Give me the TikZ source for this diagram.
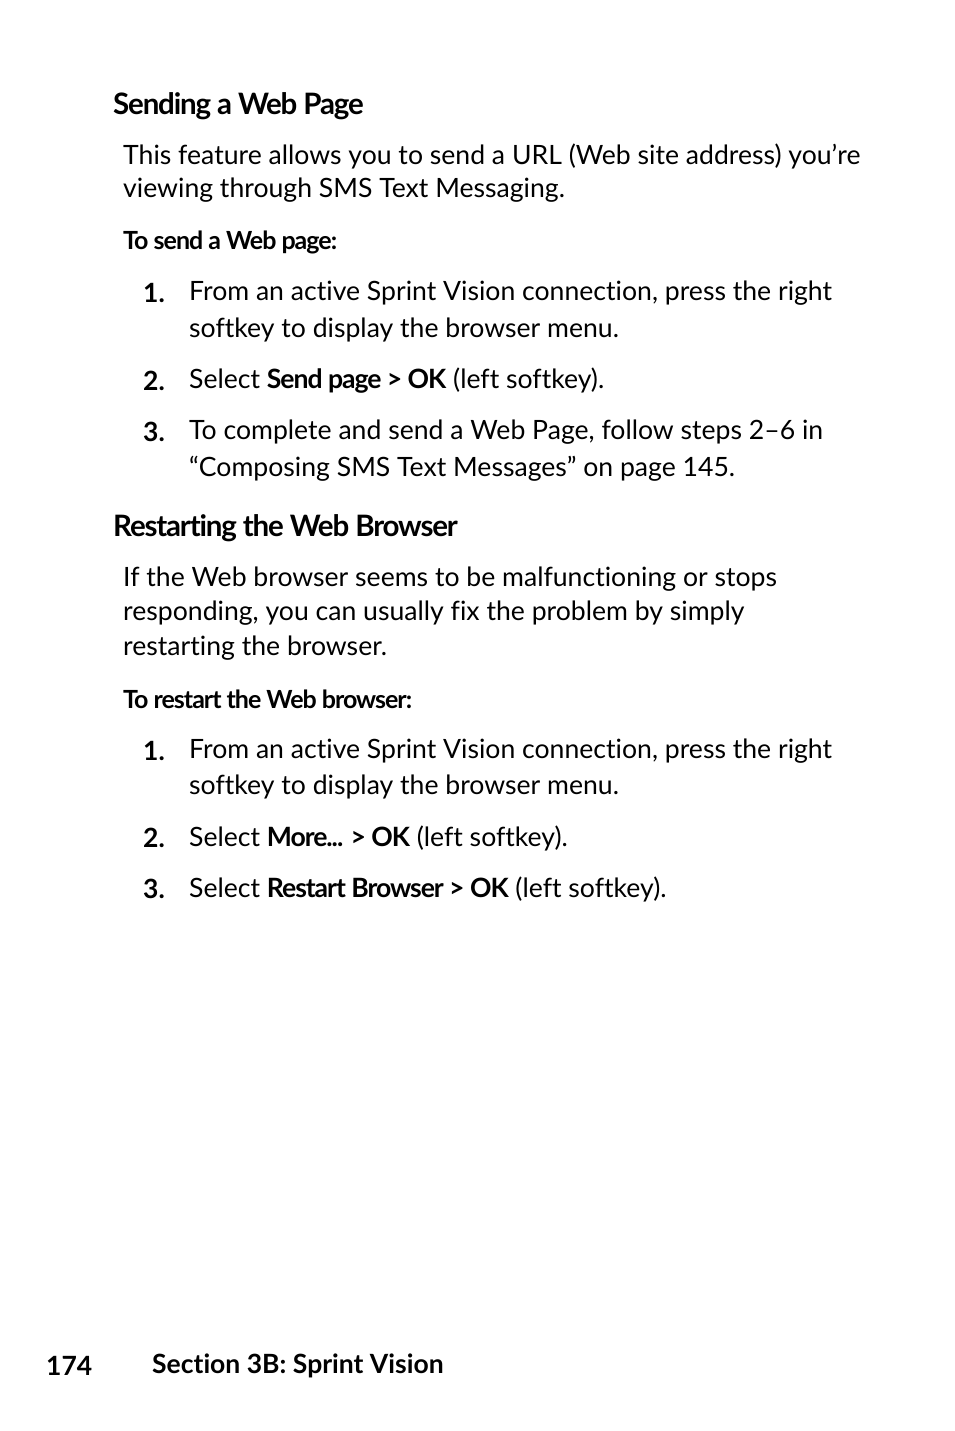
\documentclass[tikz,border=0pt]{standalone}
\usepackage{fontspec}
\setmainfont{Lato}[RawFeature=-liga;-dlig]
\begin{document}
\begin{tikzpicture}[x=1pt,y=-1pt,
  body/.style={anchor=west,inner sep=0pt,font=\fontsize{26.6}{30}\selectfont},
  head/.style={anchor=west,inner sep=0pt,font=\fontsize{29.5}{32}\selectfont\bfseries\addfontfeatures{LetterSpace=-4}},
  sub/.style={anchor=west,inner sep=0pt,font=\fontsize{25}{28}\selectfont\bfseries\addfontfeatures{LetterSpace=-4}},
  num/.style={anchor=west,inner sep=0pt,font=\fontsize{26.5}{30}\selectfont\bfseries}]
\useasboundingbox (0,0) rectangle (954,1431);
\node[head] (h1) at (113,106) {Sending a Web Page};
\node[body] (p1) at (123,156) {This feature allows you to send a URL (Web site address) you’re};
\node[body] (p2) at (123,190) {viewing through SMS Text Messaging.};
\node[sub] (s1) at (123,242) {To send a Web page:};
\node[num] (n1) at (143,293) {1.};
\node[body] (a1) at (189,293) {From an active Sprint Vision connection, press the right};
\node[body] (a2) at (189,330) {softkey to display the browser menu.};
\node[num] (n2) at (143,381) {2.};
\node[body] (b1) at (189,381) {Select {\bfseries\addfontfeatures{LetterSpace=-4}Send page > OK} (left softkey).};
\node[num] (n3) at (143,432) {3.};
\node[body] (c1) at (189,432) {To complete and send a Web Page, follow steps 2–6 in};
\node[body] (c2) at (189,469) {“Composing SMS Text Messages” on page 145.};
\node[head] (h2) at (113,528) {Restarting the Web Browser};
\node[body] (q1) at (123,579) {If the Web browser seems to be malfunctioning or stops};
\node[body] (q2) at (123,613) {responding, you can usually fix the problem by simply};
\node[body] (q3) at (123,648) {restarting the browser.};
\node[sub] (s2) at (123,699) {To restart the Web browser:};
\node[num] (m1) at (143,751) {1.};
\node[body] (d1) at (189,751) {From an active Sprint Vision connection, press the right};
\node[body] (d2) at (189,787) {softkey to display the browser menu.};
\node[num] (m2) at (143,838) {2.};
\node[body] (e1) at (189,838) {Select {\bfseries\addfontfeatures{LetterSpace=-4}More... > OK} (left softkey).};
\node[num] (m3) at (143,889) {3.};
\node[body] (f1) at (189,889) {Select {\bfseries\addfontfeatures{LetterSpace=-4}Restart Browser > OK} (left softkey).};
\node[num] (pg) at (46,1366) {174};
\node[num] (sec) at (152,1366) {Section 3B: Sprint Vision};
\end{tikzpicture}
\end{document}
